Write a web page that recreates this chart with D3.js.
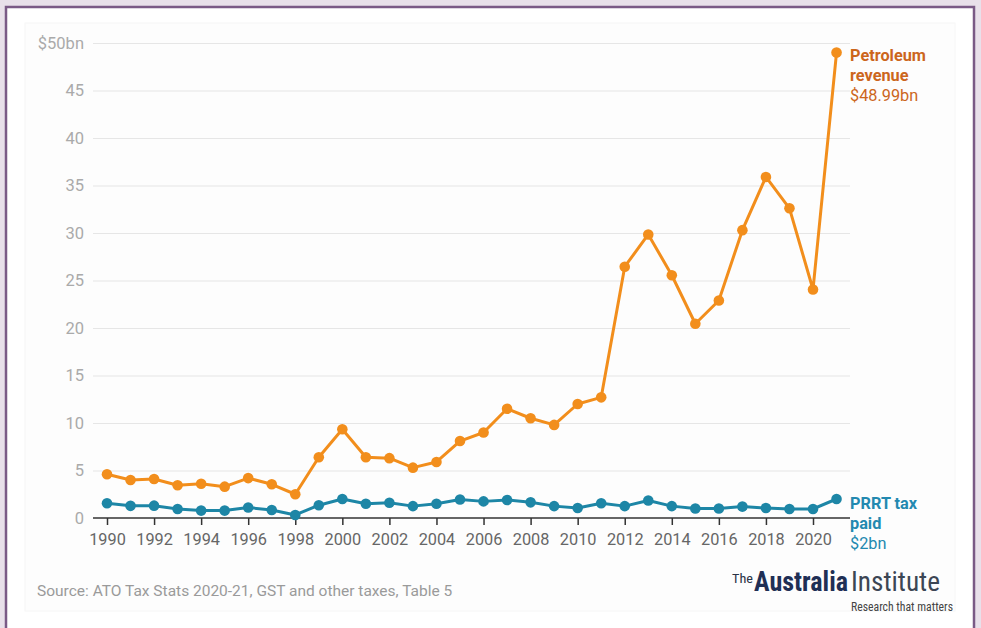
<!DOCTYPE html>
<html>
<head>
<meta charset="utf-8">
<script src="https://cdn.jsdelivr.net/npm/d3@7"></script>
<style>
  html, body { margin: 0; padding: 0; background: #e8e0ea; }
  svg { display: block; font-family: Roboto, "Noto Sans", sans-serif; }
</style>
</head>
<body>
<svg id="chart" width="981" height="628"></svg>
<script>
const years = d3.range(1990, 2022);
const petroleum = [4.6, 4.0, 4.1, 3.45, 3.6, 3.3, 4.2, 3.55, 2.5, 6.4, 9.35, 6.4, 6.3, 5.3, 5.9, 8.1, 9.0, 11.5, 10.5, 9.8, 12.0, 12.7, 26.45, 29.85, 25.55, 20.45, 22.9, 30.3, 35.9, 32.6, 24.05, 48.99];
const prrt = [1.55, 1.28, 1.3, 0.95, 0.78, 0.78, 1.1, 0.85, 0.32, 1.35, 2.0, 1.5, 1.6, 1.25, 1.5, 1.95, 1.75, 1.9, 1.65, 1.25, 1.05, 1.55, 1.25, 1.85, 1.25, 1.0, 1.0, 1.2, 1.05, 0.95, 0.95, 2.0];
const yTicks = [0, 5, 10, 15, 20, 25, 30, 35, 40, 45, 50];
const xTicks = d3.range(1990, 2021, 2);
const petroLabel = ["Petroleum", "revenue", "$48.99bn"];
const prrtLabel = ["PRRT tax", "paid", "$2bn"];
const source = "Source: ATO Tax Stats 2020-21, GST and other taxes, Table 5";

const svg = d3.select("#chart");
// frame
svg.append("rect").attr("x", 6).attr("y", 7).attr("width", 968).attr("height", 640)
  .attr("fill", "#fff").attr("stroke", "#7a5a86").attr("stroke-width", 2.5);
svg.append("rect").attr("x", 25).attr("y", 23).attr("width", 930).attr("height", 588)
  .attr("fill", "#fdfdfd").attr("stroke", "#f6f6f6").attr("stroke-width", 1);

const x = d3.scaleLinear().domain([1990, 2020]).range([107, 813]);
const y = d3.scaleLinear().domain([0, 50]).range([518, 43]);
const gx0 = 93, gx1 = 850;

// gridlines
const yAxis = d3.axisLeft(y).tickValues(yTicks).tickSize(0).tickPadding(0)
  .tickFormat(d => d === 50 ? "$50bn" : d);
const gy = svg.append("g").attr("transform", `translate(${gx0},0)`).call(yAxis);
gy.select(".domain").remove();
gy.selectAll(".tick line").attr("x2", gx1 - gx0).attr("stroke", "#e6e6e6").attr("stroke-width", 1.2)
  .filter(d => d === 0).remove();
gy.selectAll(".tick text").attr("x", -9).attr("fill", "#aaaaaa")
  .style("font-size", "16.5px").style("font-family", "Roboto, sans-serif");

// x axis
const xAxis = d3.axisBottom(x).tickValues(xTicks).tickSize(7).tickPadding(8).tickFormat(d3.format("d"));
const gxA = svg.append("g").attr("transform", `translate(0,${y(0)})`).call(xAxis);
gxA.select(".domain").attr("d", `M${gx0},0H${gx1}`).attr("stroke", "#333").attr("stroke-width", 1.5);
gxA.selectAll(".tick line").attr("stroke", "#333").attr("stroke-width", 1.5);
gxA.selectAll(".tick text").attr("fill", "#666").style("font-size", "16.3px")
  .style("font-family", "Roboto, sans-serif");

function series(values, color) {
  const data = years.map((yr, i) => [yr, values[i]]);
  svg.append("path").datum(data)
    .attr("fill", "none").attr("stroke", color).attr("stroke-width", 3)
    .attr("stroke-linejoin", "round")
    .attr("d", d3.line().x(d => x(d[0])).y(d => y(d[1])));
  svg.append("g").selectAll("circle").data(data).join("circle")
    .attr("cx", d => x(d[0])).attr("cy", d => y(d[1])).attr("r", 5.3).attr("fill", color);
}
series(petroleum, "#f28e1c");
series(prrt, "#1d86a6");

function label(lines, x0, y0, color) {
  const t = svg.append("text").attr("x", x0).attr("y", y0).attr("fill", color)
    .style("font-size", "16.3px");
  lines.forEach((l, i) => {
    t.append("tspan").attr("x", x0).attr("dy", i === 0 ? 0 : 20)
      .style("font-weight", i < 2 ? "bold" : "normal").text(l);
  });
}
label(petroLabel, 850, 61, "#cc661c");
label(prrtLabel, 850, 509, "#2389b0");

svg.append("text").attr("x", 37).attr("y", 596).attr("fill", "#9a9a9a")
  .style("font-size", "15.5px").text(source);

// logo
const logo = svg.append("g").style("font-family", "'Liberation Sans Narrow', 'Roboto Condensed', Roboto, sans-serif");
logo.append("text").attr("x", 732).attr("y", 583).attr("fill", "#2a3346")
  .style("font-size", "13px").attr("textLength", 21).attr("lengthAdjust", "spacingAndGlyphs").text("The");
logo.append("text").attr("x", 754).attr("y", 591).attr("fill", "#1f2f55")
  .style("font-size", "27px").style("font-weight", "bold")
  .attr("textLength", 94).attr("lengthAdjust", "spacingAndGlyphs").text("Australia");
logo.append("text").attr("x", 851).attr("y", 591).attr("fill", "#3c4654")
  .style("font-size", "27px")
  .attr("textLength", 89).attr("lengthAdjust", "spacingAndGlyphs").text("Institute");
logo.append("text").attr("x", 851).attr("y", 611).attr("fill", "#444")
  .style("font-size", "12.5px")
  .attr("textLength", 102).attr("lengthAdjust", "spacingAndGlyphs").text("Research that matters");
</script>
</body>
</html>
